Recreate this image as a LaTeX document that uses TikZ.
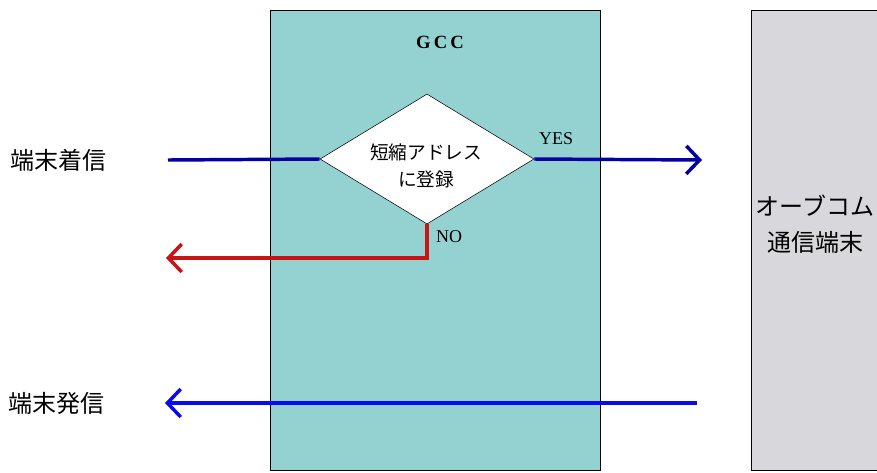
\documentclass[tikz,border=0pt]{standalone}
\usepackage{fontspec}
\setmainfont{Noto Sans CJK JP}
\newfontfamily\latinfont{Liberation Serif}
\usetikzlibrary{shapes.geometric,arrows.meta}
\definecolor{gccfill}{RGB}{148,210,210}
\definecolor{termfill}{RGB}{216,216,220}
\definecolor{inblue}{RGB}{0,0,165}
\definecolor{outblue}{RGB}{10,10,240}
\definecolor{nored}{RGB}{200,20,20}

\begin{document}
\begin{tikzpicture}[x=0.75pt,y=-0.75pt,
        flow/.style={line width=2.6pt,-{Straight Barb[length=10pt,width=21pt]}},
        lbl/.style={font=\fontsize{18}{20}\selectfont, anchor=west, inner sep=0pt},
        tag/.style={font=\latinfont\fontsize{13.5}{14}\selectfont, inner sep=0pt}]
        \useasboundingbox (0,0) rectangle (877,472);
        % boxes
        \node[draw, fill=gccfill, minimum width=247.5pt, minimum height=345pt, inner sep=0pt] (gcc) at (435,240) {};
        \node[draw, fill=termfill, minimum width=112.5pt, minimum height=345pt, inner sep=0pt] (term) at (826,240) {};
        \node[font=\latinfont\bfseries\fontsize{14}{14}\selectfont] (gcctxt) at (440,42) {G\,C\,C};
        \node[align=center, font=\fontsize{18}{27}\selectfont, inner sep=0pt] (termtxt) at (815,224) {オーブコム\\通信端末};
        \node[draw, diamond, fill=white, minimum width=160.5pt, minimum height=97.5pt, inner sep=0pt] (reg) at (427,159) {};
        \node[align=center, font=\fontsize{14}{20}\selectfont, inner sep=0pt] (regtxt) at (426,166) {短縮アドレス\\に登録};

        % labels
        \node[lbl] (inlbl) at (10,160) {端末着信};
        \node[lbl] (outlbl) at (8,403) {端末発信};
        \node[tag] (yes) at (556,139) {YES};
        \node[tag] (no) at (449,237) {NO};

        % ends
        \coordinate (inL) at (168,160);
        \coordinate (yesR) at (702,160);
        \coordinate (noL) at (166,258);
        \coordinate (outR) at (697,403);
        \coordinate (outL) at (165,403);

        \draw[line width=2.6pt, inblue] (inL) -- (reg.west);
        \draw[flow, inblue] (reg.east) -- (yesR);
        \draw[flow, nored] (reg.south) |- (noL);
        \draw[flow, outblue] (outR) -- (outL);
    \end{tikzpicture}
\end{document}
